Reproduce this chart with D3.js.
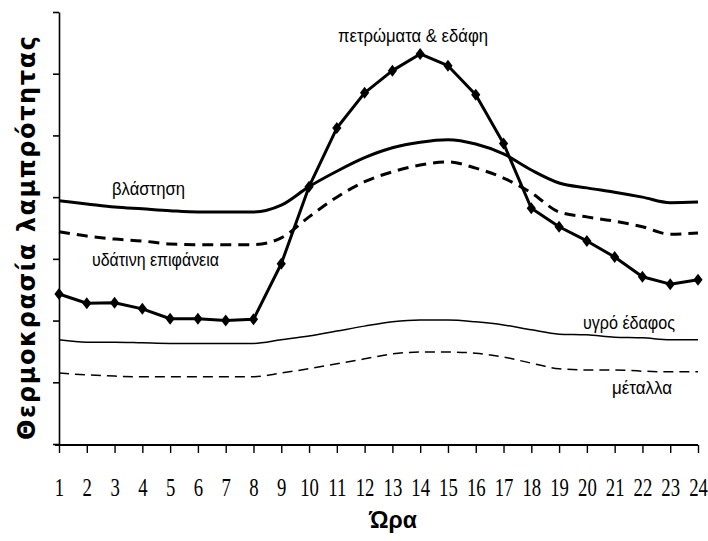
<!DOCTYPE html>
<html>
<head>
<meta charset="utf-8">
<script src="https://cdn.jsdelivr.net/npm/d3@7"></script>
<style>
  html, body { margin: 0; padding: 0; background: #fff; }
  svg { display: block; }
</style>
</head>
<body>
<svg id="chart" width="708" height="541"></svg>
<script>
// ---- data ----
const hours = [1,2,3,4,5,6,7,8,9,10,11,12,13,14,15,16,17,18,19,20,21,22,23,24];
const hourLabels = hours.map(String);
const yTickValues = [0,1,2,3,4,5,6,7];

const rocks      = [2.43,2.28,2.29,2.19,2.03,2.03,2.00,2.02,2.92,4.17,5.12,5.69,6.05,6.32,6.13,5.66,4.87,3.82,3.52,3.29,3.03,2.71,2.59,2.66];
const vegetation = [3.94,3.89,3.84,3.81,3.78,3.76,3.76,3.76,3.87,4.17,4.42,4.64,4.80,4.89,4.93,4.86,4.70,4.44,4.23,4.15,4.08,4.00,3.91,3.92];
const water      = [3.44,3.37,3.32,3.29,3.24,3.23,3.23,3.23,3.34,3.68,4.00,4.25,4.41,4.52,4.57,4.47,4.31,4.07,3.76,3.68,3.61,3.52,3.40,3.42];
const wetSoil    = [1.69,1.65,1.65,1.64,1.63,1.63,1.63,1.63,1.69,1.75,1.83,1.91,1.98,2.01,2.01,1.98,1.93,1.85,1.78,1.77,1.73,1.72,1.69,1.69];
const metals     = [1.15,1.12,1.10,1.09,1.09,1.09,1.09,1.09,1.15,1.22,1.30,1.38,1.46,1.49,1.49,1.47,1.41,1.31,1.22,1.20,1.20,1.18,1.17,1.17];

const seriesNames = ["πετρώματα & εδάφη","βλάστηση","υδάτινη επιφάνεια","υγρό έδαφος","μέταλλα"];
const yTitle = "Θερμοκρασία λαμπρότητας";
const xTitle = "Ώρα";

// ---- drawing ----
const svg = d3.select("#chart");
const x = d3.scaleLinear().domain([1,24]).range([59,698]);
const y = d3.scaleLinear().domain([0,7]).range([444,12]);

// axes
const gy = svg.append("g").attr("transform","translate(59,0)")
  .call(d3.axisLeft(y).tickValues(yTickValues).tickFormat("").tickSize(6).tickSizeOuter(0));
gy.selectAll("path,line").attr("stroke","#000").attr("stroke-width",1.6);

const gx = svg.append("g").attr("transform","translate(0,445)")
  .call(d3.axisBottom(x).tickValues(hours).tickFormat((d,i)=>hourLabels[i]).tickSize(8).tickSizeOuter(0));
gx.select("path").attr("d","M55,0H698").attr("stroke","#000").attr("stroke-width",2);
gx.selectAll("line").attr("stroke","#000").attr("stroke-width",1.4);
gx.selectAll("text")
  .attr("y",51).attr("dy",0)
  .attr("transform","scale(0.72,1)")
  .attr("fill","#000")
  .style("font-family","'Liberation Serif','DejaVu Serif',serif")
  .style("font-size","26px");

// axis titles
svg.append("text")
  .attr("transform","translate(35,238) rotate(-90)")
  .attr("text-anchor","middle")
  .attr("textLength",404).attr("lengthAdjust","spacing")
  .style("font-family","'DejaVu Sans','Liberation Sans',sans-serif")
  .style("font-weight","bold").style("font-size","24px")
  .text(yTitle);
svg.append("text")
  .attr("x",393).attr("y",528)
  .attr("text-anchor","middle")
  .style("font-family","'Liberation Sans',Arial,sans-serif")
  .style("font-weight","bold").style("font-size","23px")
  .text(xTitle);

// lines
const lineLin = d3.line().x((d,i)=>x(hours[i])).y(d=>y(d));
const lineSmooth = d3.line().x((d,i)=>x(hours[i])).y(d=>y(d)).curve(d3.curveMonotoneX);

function drawLine(data, gen, width, dash) {
  svg.append("path").datum(data)
    .attr("d", gen)
    .attr("fill","none").attr("stroke","#000")
    .attr("stroke-width",width)
    .attr("stroke-dasharray",dash || null)
    .attr("stroke-linejoin","round");
}
drawLine(metals, lineSmooth, 1.5, "10,6");
drawLine(wetSoil, lineSmooth, 1.5, null);
drawLine(water, lineSmooth, 3, "11,7");
drawLine(vegetation, lineSmooth, 3, null);
drawLine(rocks, lineLin, 3, null);

// diamond markers
const diamond = { draw(ctx, size) { const w = 4.6, h = 6; ctx.moveTo(0,-h); ctx.lineTo(w,0); ctx.lineTo(0,h); ctx.lineTo(-w,0); ctx.closePath(); } };
svg.append("g").selectAll("path").data(rocks).join("path")
  .attr("transform",(d,i)=>`translate(${x(hours[i])},${y(d)})`)
  .attr("d", d3.symbol().type(diamond)())
  .attr("fill","#000");

// series labels
const labelPos = [
  {x:338, y:42, w:150},
  {x:112, y:195, w:73},
  {x:92,  y:266, w:127},
  {x:583, y:329, w:92},
  {x:612, y:394, w:60}
];
seriesNames.forEach((name,i)=>{
  svg.append("text")
    .attr("x",labelPos[i].x).attr("y",labelPos[i].y)
    .attr("textLength",labelPos[i].w).attr("lengthAdjust","spacingAndGlyphs")
    .style("font-family","'Liberation Sans',Arial,sans-serif")
    .style("font-size","19px").attr("fill","#000")
    .text(name);
});
</script>
</body>
</html>
